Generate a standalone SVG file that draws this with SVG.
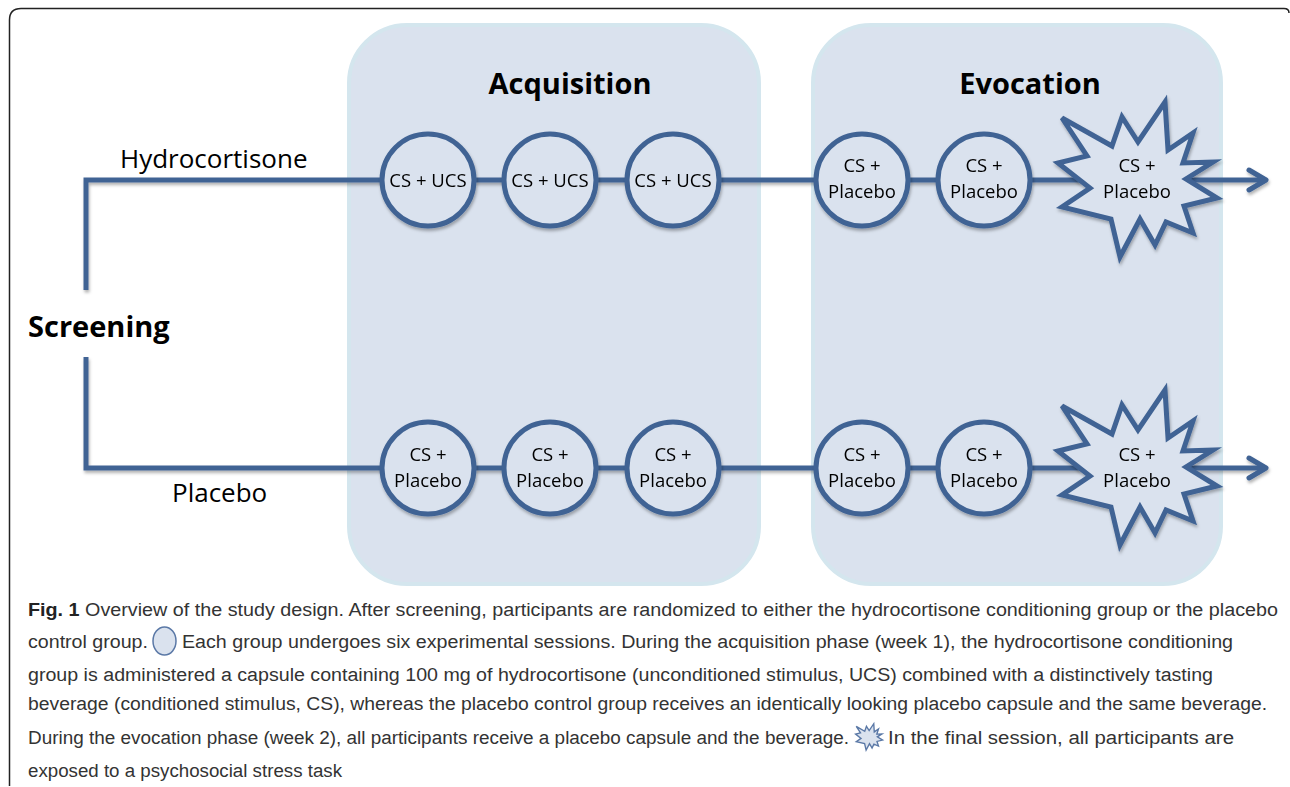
<svg xmlns="http://www.w3.org/2000/svg" width="1290" height="787" viewBox="0 0 1290 787">
<defs>
<style>
.panel{fill:#dae2ee;stroke:#d4e6ee;stroke-width:4}
.title{font-family:"Open Sans","Liberation Sans",sans-serif;font-weight:bold;font-size:29px;fill:#000;text-anchor:middle}
.lbl{font-family:"Open Sans","Liberation Sans",sans-serif;font-size:26px;fill:#000}
.big{font-family:"Open Sans","Liberation Sans",sans-serif;font-weight:bold;font-size:29px;fill:#000}
.node{fill:#dae2ee;stroke:#406394;stroke-width:5}
.nt{font-family:"Open Sans","Liberation Sans",sans-serif;font-size:18.5px;fill:#000;text-anchor:middle}
.conn{fill:none;stroke:#406394;stroke-width:5;stroke-linejoin:miter}
.cap{font-family:"Liberation Sans",Arial,sans-serif;font-size:18px;fill:#333}
</style>
<filter id="sh" x="-10%" y="-10%" width="120%" height="130%">
<feDropShadow dx="1" dy="2.5" stdDeviation="1.5" flood-color="#000" flood-opacity="0.3"/>
</filter>
<marker id="arr" markerUnits="userSpaceOnUse" markerWidth="30" markerHeight="30" viewBox="0 0 30 30" refX="26" refY="15" orient="auto">
<path d="M9,5 L26,15 L9,25" fill="none" stroke="#406394" stroke-width="5" stroke-linecap="round" stroke-linejoin="round"/>
</marker>
<path id="star" d="M1165,102 L1168,150 L1193,133 L1183,163 L1213,162 L1186,179 L1217,198 L1184,206 L1193,233 L1166,222 L1155,245 L1140,219 L1120,257 L1111,219 L1062,207 L1090,188 L1058,163 L1087,156 L1062,118 L1112,146 L1122,117 L1138,142 Z"/>
</defs>

<path d="M9.5,786 L9.5,20 Q9.5,8.5 21,8.5 L1284,8.5 Q1289,8.5 1289,13" fill="none" stroke="#222" stroke-width="1.5"/>

<g id="acquisition">
<rect class="panel" x="349" y="25" width="410" height="559" rx="58"/>
<text class="title" x="570" y="94">Acquisition</text>
</g>
<g id="evocation">
<rect class="panel" x="813" y="25" width="408" height="559" rx="58"/>
<text class="title" x="1030" y="94">Evocation</text>
</g>

<g id="screening">
<text class="big" x="28" y="337">Screening</text>
</g>
<g id="hydrocortisone-label">
<text class="lbl" x="120" y="168">Hydrocortisone</text>
</g>
<g id="placebo-label">
<text class="lbl" x="172" y="502">Placebo</text>
</g>

<g id="connectors" filter="url(#sh)">
<path class="conn" d="M86,290 L86,180 L382,180"/>
<path class="conn" d="M475,180 L504,180"/>
<path class="conn" d="M597,180 L627,180"/>
<path class="conn" d="M720,180 L816,180"/>
<path class="conn" d="M909,180 L937,180"/>
<path class="conn" d="M1031,180 L1080,180"/>
<path class="conn" d="M1190,180 L1266,180" marker-end="url(#arr)"/>
<path class="conn" d="M86,357 L86,468 L382,468"/>
<path class="conn" d="M475,468 L504,468"/>
<path class="conn" d="M597,468 L627,468"/>
<path class="conn" d="M720,468 L816,468"/>
<path class="conn" d="M909,468 L937,468"/>
<path class="conn" d="M1031,468 L1080,468"/>
<path class="conn" d="M1190,468 L1266,468" marker-end="url(#arr)"/>
</g>

<g id="h1" filter="url(#sh)"><circle class="node" cx="428" cy="180" r="46"/><text class="nt" x="428" y="187">CS + UCS</text></g>
<g id="h2" filter="url(#sh)"><circle class="node" cx="550" cy="180" r="46"/><text class="nt" x="550" y="187">CS + UCS</text></g>
<g id="h3" filter="url(#sh)"><circle class="node" cx="673" cy="180" r="46"/><text class="nt" x="673" y="187">CS + UCS</text></g>
<g id="h4" filter="url(#sh)"><circle class="node" cx="862" cy="180" r="46"/><text class="nt" x="862" y="172">CS +</text><text class="nt" x="862" y="198">Placebo</text></g>
<g id="h5" filter="url(#sh)"><circle class="node" cx="984" cy="180" r="46"/><text class="nt" x="984" y="172">CS +</text><text class="nt" x="984" y="198">Placebo</text></g>
<g id="h6" filter="url(#sh)"><use href="#star" class="node"/><text class="nt" x="1137" y="172">CS +</text><text class="nt" x="1137" y="198">Placebo</text></g>

<g id="p1" filter="url(#sh)"><circle class="node" cx="428" cy="468" r="46"/><text class="nt" x="428" y="461">CS +</text><text class="nt" x="428" y="487">Placebo</text></g>
<g id="p2" filter="url(#sh)"><circle class="node" cx="550" cy="468" r="46"/><text class="nt" x="550" y="461">CS +</text><text class="nt" x="550" y="487">Placebo</text></g>
<g id="p3" filter="url(#sh)"><circle class="node" cx="673" cy="468" r="46"/><text class="nt" x="673" y="461">CS +</text><text class="nt" x="673" y="487">Placebo</text></g>
<g id="p4" filter="url(#sh)"><circle class="node" cx="862" cy="468" r="46"/><text class="nt" x="862" y="461">CS +</text><text class="nt" x="862" y="487">Placebo</text></g>
<g id="p5" filter="url(#sh)"><circle class="node" cx="984" cy="468" r="46"/><text class="nt" x="984" y="461">CS +</text><text class="nt" x="984" y="487">Placebo</text></g>
<g id="p6" filter="url(#sh)"><use href="#star" class="node" transform="translate(0,288)"/><text class="nt" x="1137" y="461">CS +</text><text class="nt" x="1137" y="487">Placebo</text></g>

<g id="caption">
<text class="cap" x="28" y="616" textLength="1250" lengthAdjust="spacingAndGlyphs"><tspan font-weight="bold" fill="#222">Fig. 1</tspan> Overview of the study design. After screening, participants are randomized to either the hydrocortisone conditioning group or the placebo</text>
<text class="cap" x="28" y="648" textLength="120" lengthAdjust="spacingAndGlyphs">control group.</text>
<ellipse cx="164.5" cy="641" rx="11.5" ry="14" fill="#dae2ee" stroke="#5a78a6" stroke-width="1.5"/>
<text class="cap" x="182" y="648" textLength="1051" lengthAdjust="spacingAndGlyphs">Each group undergoes six experimental sessions. During the acquisition phase (week 1), the hydrocortisone conditioning</text>
<text class="cap" x="28" y="681" textLength="1185" lengthAdjust="spacingAndGlyphs">group is administered a capsule containing 100 mg of hydrocortisone (unconditioned stimulus, UCS) combined with a distinctively tasting</text>
<text class="cap" x="28" y="710" textLength="1239" lengthAdjust="spacingAndGlyphs">beverage (conditioned stimulus, CS), whereas the placebo control group receives an identically looking placebo capsule and the same beverage.</text>
<text class="cap" x="28" y="744" textLength="821" lengthAdjust="spacingAndGlyphs">During the evocation phase (week 2), all participants receive a placebo capsule and the beverage.</text>
<use href="#star" transform="translate(869,737) scale(0.17) translate(-1137,-180)" fill="#dae2ee" stroke="#5a78a6" stroke-width="8"/>
<text class="cap" x="888" y="744" textLength="346" lengthAdjust="spacingAndGlyphs">In the final session, all participants are</text>
<text class="cap" x="28" y="777" textLength="314" lengthAdjust="spacingAndGlyphs">exposed to a psychosocial stress task</text>
</g>
</svg>
